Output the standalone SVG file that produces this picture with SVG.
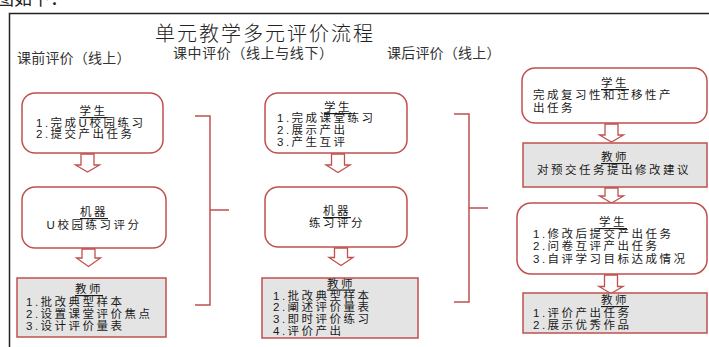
<svg xmlns="http://www.w3.org/2000/svg" width="709" height="347" viewBox="0 0 709 347">
<style>
text{font-family:"Liberation Sans","Noto Sans CJK SC",sans-serif;fill:#1a1a1a}
.t{font-size:11.5px;letter-spacing:2.5px;dominant-baseline:central}
.c{text-anchor:middle}
.u{text-decoration:underline}
.h{font-size:14px;fill:#333;dominant-baseline:central}
.title{font-family:"Noto Sans CJK SC",sans-serif;font-size:20px;letter-spacing:2px;font-weight:300;fill:#222;dominant-baseline:central;text-anchor:middle}
.rb{fill:#fff;stroke:#c0504d;stroke-width:1.5}
.gb{fill:#e4e4e4;stroke:#c0504d;stroke-width:1.5}
.ar{fill:#fff;stroke:#c0504d;stroke-width:1.3;stroke-linejoin:miter}
.br{fill:none;stroke:#c0504d;stroke-width:1.5}
</style>
<rect width="709" height="347" fill="#fff"/>
<text x="-4" y="5" style="font-family:'Noto Sans CJK SC',sans-serif;font-size:18px;fill:#222">图如下：</text>
<path d="M9.5,347 V13.5 H709" fill="none" stroke="#222" stroke-width="1.5"/>
<text class="title" x="265" y="32">单元教学多元评价流程</text>
<text class="h" x="17" y="58" style="letter-spacing:0.2px">课前评价（线上）</text>
<text class="h" x="173" y="53" style="letter-spacing:0.6px">课中评价（线上与线下）</text>
<text class="h" x="387" y="53" style="letter-spacing:0.2px">课后评价（线上）</text>

<g id="connectors">
<path class="ar" d="M81,154 H94 V165 H99.5 L87.5,172 L75.5,165 H81 Z"/>
<path class="ar" d="M82,249 H95 V258 H100.5 L88.5,266.5 L76.5,258 H82 Z"/>
<path class="ar" d="M331.5,154 H344.5 V165 H350 L338,172.5 L326,165 H331.5 Z"/>
<path class="ar" d="M334.5,248 H347.5 V257.5 H353 L341,265.5 L329,257.5 H334.5 Z"/>
<path class="ar" d="M605,124 H618 V135 H623.5 L611.5,142 L599.5,135 H605 Z"/>
<path class="ar" d="M605,188 H618 V196 H623.5 L611.5,203 L599.5,196 H605 Z"/>
<path class="ar" d="M604.5,275 H617.5 V286.5 H623 L611,293.5 L599,286.5 H604.5 Z"/>
<path class="br" d="M195,116 H210 V305 H195 M210,210 H229"/>
<path class="br" d="M454,114 H469 V302 H454 M469,208 H488"/>
</g>

<g id="pre-student">
<rect class="rb" x="22" y="93" width="141" height="60" rx="13"/>
<text class="t c u" x="93.5" y="111">学生</text>
<text class="t" x="36" y="122.5">1.完成U校园练习</text>
<text class="t" x="36" y="134">2.提交产出任务</text>
</g>
<g id="pre-machine">
<rect class="rb" x="22" y="187" width="144" height="61" rx="13"/>
<text class="t c u" x="94" y="212">机器</text>
<text class="t c" x="94" y="225">U校园练习评分</text>
</g>
<g id="pre-teacher">
<rect class="gb" x="17" y="278" width="149" height="59"/>
<text class="t c u" x="89" y="289">教师</text>
<text class="t" x="26" y="301.5">1.批改典型样本</text>
<text class="t" x="26" y="313.5">2.设置课堂评价焦点</text>
<text class="t" x="26" y="325.5">3.设计评价量表</text>
</g>

<g id="mid-student">
<rect class="rb" x="265" y="93" width="142" height="60" rx="13"/>
<text class="t c u" x="338" y="107">学生</text>
<text class="t" x="277" y="118">1.完成课堂练习</text>
<text class="t" x="277" y="130">2.展示产出</text>
<text class="t" x="277" y="142">3.产生互评</text>
</g>
<g id="mid-machine">
<rect class="rb" x="265" y="187" width="142" height="60" rx="13"/>
<text class="t c u" x="337" y="211">机器</text>
<text class="t c" x="337" y="223">练习评分</text>
</g>
<g id="mid-teacher">
<rect class="gb" x="262" y="278" width="156" height="60"/>
<text class="t c u" x="341" y="283.5">教师</text>
<text class="t" x="273" y="295.5">1.批改典型样本</text>
<text class="t" x="273" y="307">2.阐述评价量表</text>
<text class="t" x="273" y="319">3.即时评价练习</text>
<text class="t" x="273" y="331">4.评价产出</text>
</g>

<g id="post-student1">
<rect class="rb" x="522" y="68" width="185" height="55" rx="13"/>
<text class="t c u" x="615" y="83">学生</text>
<text class="t" x="533" y="95">完成复习性和迁移性产</text>
<text class="t" x="533" y="108">出任务</text>
</g>
<g id="post-teacher1">
<rect class="gb" x="523" y="143" width="184" height="44"/>
<text class="t c u" x="615" y="157">教师</text>
<text class="t c" x="614" y="170">对预交任务提出修改建议</text>
</g>
<g id="post-student2">
<rect class="rb" x="517" y="203" width="190" height="71" rx="14"/>
<text class="t c u" x="613" y="222">学生</text>
<text class="t" x="533" y="233.5">1.修改后提交产出任务</text>
<text class="t" x="533" y="245.5">2.问卷互评产出任务</text>
<text class="t" x="533" y="258.5">3.自评学习目标达成情况</text>
</g>
<g id="post-teacher2">
<rect class="gb" x="523" y="293" width="184" height="40"/>
<text class="t c u" x="615" y="300">教师</text>
<text class="t" x="533" y="312.5">1.评价产出任务</text>
<text class="t" x="533" y="325">2.展示优秀作品</text>
</g>
</svg>
